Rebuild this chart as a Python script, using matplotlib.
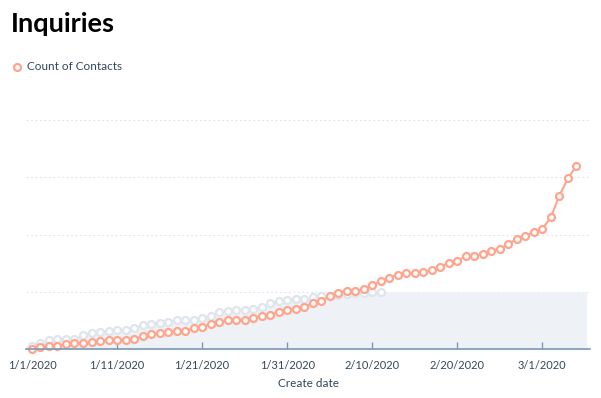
import matplotlib
matplotlib.use("Agg")
import matplotlib.pyplot as plt
import matplotlib.dates as mdates
import numpy as np
import pandas as pd

plt.rcParams["font.family"] = ["Lato", "DejaVu Sans"]

# Cumulative contacts, one value per day starting 1/1/2020
START = "2020-01-01"
contacts = [0, 2, 3, 3, 4, 5, 5, 6, 7, 8,
            8, 8, 9, 11, 13, 14, 15, 16, 16, 18,
            19, 22, 24, 25, 25, 25, 27, 29, 30, 32,
            34, 35, 37, 40, 42, 46, 49, 51, 51, 52,
            56, 59, 62, 65, 66, 66, 67, 69, 72, 75,
            77, 81, 81, 83, 86, 87, 92, 96, 99, 102,
            105, 115, 134, 149, 160]
# Previous period comparison (grey area)
previous = [3, 5, 8, 9, 9, 9, 12, 14, 15, 16,
            17, 17, 18, 21, 22, 23, 24, 25, 25, 25,
            27, 29, 32, 33, 34, 34, 35, 37, 40, 42,
            43, 44, 44, 45, 46, 46, 47, 48, 49, 49,
            50, 50]
tick_dates = ["2020-01-01", "2020-01-11", "2020-01-21", "2020-01-31",
              "2020-02-10", "2020-02-20", "2020-03-01"]
y_grid = [50, 100, 150, 200]

ORANGE = "#fea58e"
GREY = "#dfe5ec"
FILL = "#eef1f5"
TEXT = "#33475b"
AXIS = "#7c98b6"

dates = pd.date_range(START, periods=len(contacts))
prev_dates = pd.date_range(START, periods=len(previous))

fig = plt.figure(figsize=(6.01, 3.98), dpi=100)
ax = fig.add_axes([26 / 601, 49 / 398, 564 / 601, 229 / 398])

x0 = mdates.date2num(dates[0]) - 0.7
x1 = mdates.date2num(dates[-1]) + 1.2
xp = mdates.date2num(prev_dates)
fill_x = np.concatenate([[x0], xp, [x1]])
fill_y = np.concatenate([[previous[0]], previous, [previous[-1]]])
ax.fill_between(fill_x, 0, fill_y, color=FILL, lw=0, zorder=1)

ax.plot(xp, previous, color=GREY, lw=1.0, marker="o", ms=5,
        mfc="white", mec=GREY, mew=1.6, zorder=2, clip_on=False)
ax.plot(mdates.date2num(dates), contacts, color=ORANGE, lw=1.5, marker="o",
        ms=5, mfc="white", mec=ORANGE, mew=1.6, zorder=3, clip_on=False)

for g in y_grid:
    ax.axhline(g, color="#e3e8ee", lw=0.8, ls=(0, (2, 2)), zorder=0)

ax.set_xlim(mdates.date2num(dates[0]) - 0.7, mdates.date2num(dates[0]) + 65.6)
ax.set_ylim(0, 200)

ticks = mdates.date2num(pd.to_datetime(tick_dates))
ax.set_xticks(ticks)
ax.set_xticklabels([f"{d.month}/{d.day}/{d.year}" for d in pd.to_datetime(tick_dates)],
                   color=TEXT, fontsize=8)
ax.tick_params(axis="x", direction="in", length=5, width=1, color=AXIS, pad=8)
ax.set_yticks([])
for s in ["top", "right", "left"]:
    ax.spines[s].set_visible(False)
ax.spines["bottom"].set_color(AXIS)
ax.spines["bottom"].set_linewidth(1.2)
ax.spines["bottom"].set_zorder(4)
ax.set_xlabel("Create date", color=TEXT, fontsize=8.5, labelpad=5)

fig.text(11 / 601, 1 - 24 / 398, "Inquiries", fontsize=19.5, fontweight="bold",
         color="#000000", va="center", ha="left")
fig.lines.append(plt.Line2D([17 / 601], [1 - 67 / 398], transform=fig.transFigure,
                            marker="o", ms=5, mfc="white", mec=ORANGE, mew=1.6, ls=""))
fig.text(27 / 601, 1 - 67 / 398, "Count of Contacts", fontsize=8.5, color=TEXT,
         va="center", ha="left")

fig.savefig("out.png", dpi=100)
